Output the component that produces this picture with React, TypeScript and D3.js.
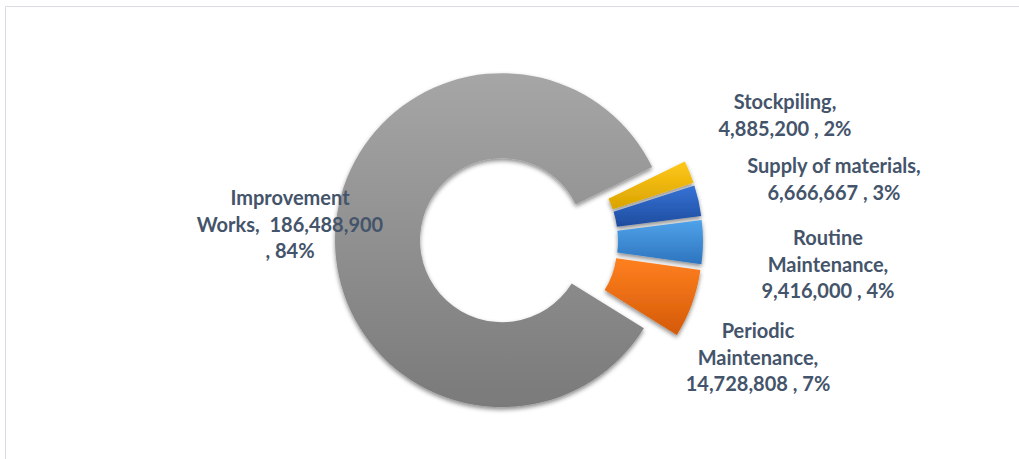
import React from "react";
import * as d3 from "d3";

const categories = ["Stockpiling", "Supply of materials", "Routine Maintenance", "Periodic Maintenance", "Improvement Works"];
const values = [4885200, 6666667, 9416000, 14728808, 186488900];
const percentLabels = ["2%", "3%", "4%", "7%", "84%"];
const labelLines = [
  ["Stockpiling,", "4,885,200 , 2%"],
  ["Supply of materials,", "6,666,667 , 3%"],
  ["Routine", "Maintenance,", "9,416,000 , 4%"],
  ["Periodic", "Maintenance,", "14,728,808 , 7%"],
  ["Improvement", "Works,  186,488,900", ", 84%"],
];
const colorsTop = ["#FFC81A", "#3673D6", "#4FA3EA", "#FF801F", "#A6A6A6"];
const colorsBottom = ["#D9A300", "#1E4C9E", "#2D74BE", "#D45A08", "#7A7A7A"];

const W = 1019;
const H = 459;
const cx = 519;
const cy = 241;
const R = 167;
const r = 82;
const explode = 17;
const startDeg = 64;
const labelPos: [number, number][] = [
  [785, 109],
  [834, 173],
  [828, 245],
  [758, 338],
  [290, 205],
];
const lineH = 26.5;

export default function App() {
  const pie = d3
    .pie<number>()
    .sort(null)
    .value((d) => d)
    .startAngle((startDeg * Math.PI) / 180)
    .endAngle((startDeg * Math.PI) / 180 + 2 * Math.PI);
  const arcs = pie(values);
  const arcGen = d3.arc<d3.PieArcDatum<number>>().innerRadius(r).outerRadius(R);

  return (
    <svg
      width={W}
      height={H}
      style={{ position: "absolute", left: 0, top: 0, background: "#fff" }}
    >
      <defs>
        {arcs.map((a, i) => (
          <linearGradient key={i} id={`g${i}`} x1="0" y1="0" x2="0" y2="1">
            <stop offset="0%" stopColor={colorsTop[i]} />
            <stop offset="100%" stopColor={colorsBottom[i]} />
          </linearGradient>
        ))}
        <filter id="sh" x="-20%" y="-20%" width="140%" height="140%">
          <feDropShadow dx="0" dy="2.5" stdDeviation="2.2" floodColor="#000" floodOpacity="0.45" />
        </filter>
      </defs>
      <rect x={0} y={0} width={W} height={H} fill="#fff" />
      <line x1={5.5} y1={6.5} x2={W} y2={6.5} stroke="#D9DCE6" strokeWidth={1} />
      <line x1={5.5} y1={6.5} x2={5.5} y2={H} stroke="#D9DCE6" strokeWidth={1} />
      {arcs.map((a, i) => {
        const mid = (a.startAngle + a.endAngle) / 2;
        const dx = explode * Math.sin(mid);
        const dy = -explode * Math.cos(mid);
        return (
          <g key={categories[i]} transform={`translate(${cx + dx},${cy + dy})`}>
            <path d={arcGen(a) || ""} fill={`url(#g${i})`} filter="url(#sh)" />
          </g>
        );
      })}
      {labelLines.map((lines, i) => (
        <text
          key={i}
          x={labelPos[i][0]}
          y={labelPos[i][1]}
          textAnchor="middle"
          fontFamily="Lato, 'Open Sans', sans-serif"
          fontWeight="bold"
          fontSize={20}
          fill="#44546A"
          style={{ whiteSpace: "pre" }}
          data-pct={percentLabels[i]}
        >
          {lines.map((l, j) => (
            <tspan key={j} x={labelPos[i][0]} y={labelPos[i][1] + j * lineH}>
              {l}
            </tspan>
          ))}
        </text>
      ))}
    </svg>
  );
}
